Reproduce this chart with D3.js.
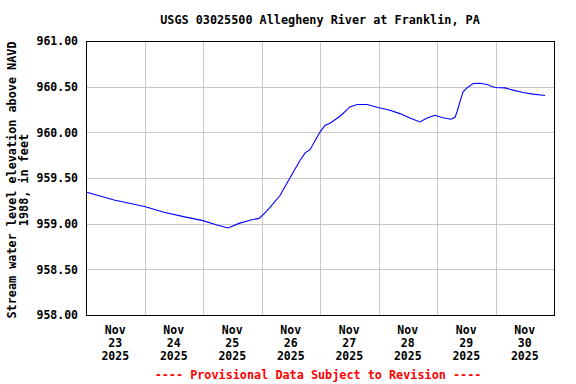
<!DOCTYPE html>
<html lang="en">
<head>
<meta charset="UTF-8">
<title>USGS 03025500</title>
<style>
  body { margin: 0; background: #fff; }
  text { font-family: "DejaVu Sans Mono", monospace; font-weight: bold; }
</style>
</head>
<body>
<div id="chart"></div>
<script src="https://cdnjs.cloudflare.com/ajax/libs/d3/7.8.5/d3.min.js"></script>
<script>
    // readings: hours after Nov 23 2025 00:00, elevation in ft
    const hours = [0, 11.5, 24, 32, 40, 48, 53.7, 58.3, 62.8, 67.6, 71, 73, 75.5, 79.6, 83.7, 87.8, 89.9, 91.9,
        94, 96, 98, 100.1, 104.2, 108.3, 111.2, 115.3, 119.8, 124.7, 128.8, 132.9, 137, 139.9, 143.2, 146, 149.7,
        151.4, 152.2, 153.4, 154.7, 156.3, 158.8, 161.6, 164.5, 167.8, 171.9, 175.2, 179.3, 183.4, 188.3];
    const elev = [959.346, 959.26, 959.187, 959.124, 959.077, 959.033, 958.986, 958.953, 959.003, 959.041,
        959.058, 959.107, 959.179, 959.308, 959.502, 959.692, 959.775, 959.810, 959.91, 960.003, 960.075,
        960.10, 960.176, 960.278, 960.304, 960.304, 960.271, 960.242, 960.205, 960.157, 960.113, 960.157,
        960.187, 960.162, 960.143, 960.165, 960.223, 960.333, 960.443, 960.487, 960.535, 960.538, 960.524,
        960.491, 960.487, 960.462, 960.436, 960.418, 960.403];
    const yTicks = [958, 958.5, 959, 959.5, 960, 960.5, 961];
    const dayLabels = ["23", "24", "25", "26", "27", "28", "29", "30"];

    const W = 576, H = 384;
    const pLeft = 86, pRight = 554, pTop = 41, pBottom = 315;
    const start = new Date(2025, 10, 23);
    const end = new Date(2025, 11, 1);

    const svg = d3.select("#chart").append("svg")
        .attr("width", W).attr("height", H);

    const x = d3.scaleTime().domain([start, end]).range([pLeft, pRight]);
    const y = d3.scaleLinear().domain([958, 961]).range([pBottom, pTop]);

    // grid lines
    const days = d3.timeDay.range(start, end);
    svg.append("g").selectAll("line").data(days.slice(1)).join("line")
        .attr("x1", d => Math.round(x(d)) + 0.5).attr("x2", d => Math.round(x(d)) + 0.5)
        .attr("y1", pTop).attr("y2", pBottom)
        .attr("stroke", "#c8c8c8").attr("stroke-width", 1);
    svg.append("g").selectAll("line").data(yTicks.slice(1, -1)).join("line")
        .attr("x1", pLeft).attr("x2", pRight)
        .attr("y1", d => Math.round(y(d)) + 0.5).attr("y2", d => Math.round(y(d)) + 0.5)
        .attr("stroke", "#c8c8c8").attr("stroke-width", 1);

    // y axis labels
    const yAxis = d3.axisLeft(y).tickValues(yTicks).tickSize(0).tickPadding(8).tickFormat(d3.format(".2f"));
    svg.append("g").attr("transform", `translate(${pLeft},0)`).call(yAxis)
        .call(g => g.select(".domain").remove())
        .selectAll("text").attr("font-size", 11.5).attr("fill", "#000")
        .attr("font-family", "DejaVu Sans Mono").attr("font-weight", "bold");

    // x axis labels, three lines at each day's middle
    const noons = days.map(d => d3.timeHour.offset(d, 12));
    const xl = svg.append("g").selectAll("text").data(noons).join("text")
        .attr("text-anchor", "middle").attr("font-size", 11.5);
    xl.each(function(d, i) {
        const t = d3.select(this);
        ["Nov", dayLabels[i], "2025"].forEach((s, k) => {
            t.append("tspan").attr("x", x(d)).attr("y", 334 + k * 13).text(s);
        });
    });

    // data line
    const line = d3.line()
        .x((d, i) => x(d3.timeMinute.offset(start, Math.round(hours[i] * 60))))
        .y(d => y(d));
    svg.append("path").datum(elev)
        .attr("d", line)
        .attr("fill", "none").attr("stroke", "#0000ff").attr("stroke-width", 1.1);

    // frame
    svg.append("rect")
        .attr("x", pLeft + 0.5).attr("y", pTop + 0.5)
        .attr("width", pRight - pLeft).attr("height", pBottom - pTop)
        .attr("fill", "none").attr("stroke", "#000").attr("stroke-width", 1);

    // title
    svg.append("text").attr("x", 320).attr("y", 24).attr("text-anchor", "middle")
        .attr("font-size", 11.8).text("USGS 03025500 Allegheny River at Franklin, PA");

    // y axis title
    const yt = svg.append("text").attr("transform", "translate(0,180) rotate(-90)")
        .attr("text-anchor", "middle").attr("font-size", 11.8);
    yt.append("tspan").attr("x", 0).attr("y", 16).text("Stream water level elevation above NAVD");
    yt.append("tspan").attr("x", 0).attr("y", 28).text("1988, in feet");

    // footer
    svg.append("text").attr("x", 318).attr("y", 379).attr("text-anchor", "middle")
        .attr("font-size", 11.8).attr("fill", "#ff0000")
        .text("---- Provisional Data Subject to Revision ----");
</script>
</body>
</html>
